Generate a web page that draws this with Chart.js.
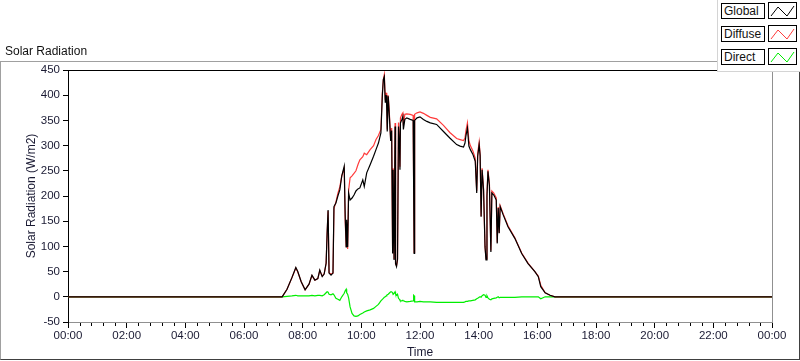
<!DOCTYPE html>
<html>
<head>
<meta charset="utf-8">
<script src="https://cdn.jsdelivr.net/npm/chart.js@4"></script>
<style>
  html, body { margin: 0; padding: 0; background: #fff; }
  #wrap { position: relative; width: 800px; height: 361px; overflow: hidden; font-family: "Liberation Sans", Arial, sans-serif; }
  canvas { position: absolute; left: 0; top: 0; }
  #frame { position: absolute; left: 0; top: 61px; width: 798px; height: 297px;
    border-left: 1px solid #a0a0a0; border-top: 1px solid #a0a0a0;
    border-right: 1px solid #404040; border-bottom: 1px solid #404040; pointer-events: none; }
  #title { position: absolute; left: 5px; top: 44px; font-size: 12px; line-height: 14px; color: #111; }
  #legend { position: absolute; left: 717px; top: 0; width: 83px; height: 71px; background: #fff;
    border-left: 1px solid #d4d4d4; border-bottom: 1px solid #d4d4d4; }
  .lab { position: absolute; left: 3px; width: 40px; height: 14px; border: 1px solid #000;
    font-size: 12px; line-height: 14px; padding-left: 2px; color: #111; }
  .ico { position: absolute; left: 50px; width: 27px; height: 15px; border: 1px solid #000; background: #fff; }
  .ico svg { position: absolute; left: 0; top: 0; }
</style>
</head>
<body>
<div id="wrap">
  <canvas id="grafico" width="800" height="361"></canvas>
  <div id="frame"></div>
  <div id="title">Solar Radiation</div>
  <div id="legend"></div>
</div>
<script>
// minutes after midnight
const minutes = [0, 438, 448, 458, 466, 470, 477, 485, 493, 499, 505, 511, 515, 520, 524, 528, 530, 532, 534, 538,
  542, 544, 548, 552, 556, 560, 565, 567, 569, 570, 572, 574, 577, 581, 585, 589, 593, 597, 603, 606,
  611, 618, 625, 630, 635, 640, 643, 645, 647, 649, 651, 652, 653, 655, 657, 660, 662, 664, 665, 667,
  669, 670, 672, 674, 676, 678, 679, 680, 683, 685, 686, 689, 693, 700, 706, 707, 708, 709, 714, 720,
  727, 734, 741, 754, 768, 781, 795, 802, 809, 812, 814, 817, 820, 823, 828, 833, 836, 838, 841, 843,
  845, 847, 850, 853, 855, 857, 859, 862, 865, 867, 871, 876, 878, 880, 882, 884, 890, 900, 914, 928,
  941, 955, 962, 967, 976, 986, 996, 1440]

const globalRad = [0, 0, 15, 38, 58, 50, 30, 14, 25, 43, 33, 36, 53, 40, 45, 67, 126, 172, 47, 43,
  47, 179, 186, 200, 212, 240, 259, 160, 99, 153, 99, 206, 192, 196, 202, 210, 214, 216, 232, 219,
  246, 262, 279, 292, 305, 325, 400, 431, 437, 385, 400, 372, 328, 398, 365, 309, 330, 86, 252, 73,
  338, 66, 60, 75, 338, 300, 252, 345, 352, 358, 332, 352, 355, 352, 350, 216, 86, 350, 355, 357,
  352, 348, 345, 342, 328, 315, 302, 299, 297, 305, 320, 335, 299, 292, 283, 269, 206, 279, 302, 280,
  159, 252, 212, 99, 73, 200, 249, 220, 89, 206, 202, 192, 106, 176, 126, 179, 163, 139, 116, 86,
  66, 50, 40, 20, 8, 3, 0, 0]

const diffuseRad = [0, 0, 15, 38, 57, 49, 30, 14, 25, 42, 33, 36, 52, 41, 46, 66, 125, 170, 48, 45,
  47, 175, 188, 205, 218, 240, 255, 150, 100, 148, 95, 212, 236, 240, 245, 250, 262, 272, 278, 285,
  282, 292, 300, 312, 320, 332, 405, 431, 441, 390, 405, 376, 332, 400, 370, 312, 335, 90, 255, 75,
  345, 65, 62, 72, 346, 305, 258, 355, 362, 365, 340, 362, 363, 362, 360, 218, 88, 362, 365, 367,
  364, 360, 356, 353, 340, 326, 314, 312, 310, 315, 330, 345, 310, 300, 290, 275, 210, 284, 307, 283,
  160, 255, 214, 100, 75, 205, 252, 224, 92, 210, 206, 196, 108, 178, 127, 181, 165, 141, 117, 87,
  67, 50, 41, 23, 8, 3, 0, 0]

const directRad = [0, 0, 1, 2, 3, 2, 2, 2, 2, 3, 2, 3, 3, 2, 4, 8, 10, 9, 5, 4,
  6, 4, -3, -5, -7, 0, 7, 12, 15, 8, 5, -2, -20, -33, -38, -39, -38, -35, -32, -30,
  -28, -26, -23, -19, -15, -8, -5, -3, -1, 0, 2, 3, 4, 5, 7, 10, 10, 8, 5, 7,
  10, 6, 3, 5, -3, -5, -7, -8, -8, -7, -8, -9, -10, -9, -8, 3, 2, -10, -10, -9,
  -10, -10, -10, -11, -11, -11, -11, -11, -11, -10, -9, -9, -8, -8, -7, -6, -4, -3, -1, 0,
  -1, 2, 4, 3, -1, 2, -2, -5, -6, -4, -3, -2, -1, 0, -2, -1, -1, -1, -1, 0,
  0, 0, 0, -4, 0, 0, 0, 0]

const seriesNames = ['Global', 'Diffuse', 'Direct']
const seriesColors = ['#000000', '#ff3c3c', '#00ee00']
const yTicks = [-50, 0, 50, 100, 150, 200, 250, 300, 350, 400, 450]
const xTickLabels = ['00:00', '02:00', '04:00', '06:00', '08:00', '10:00', '12:00',
  '14:00', '16:00', '18:00', '20:00', '22:00', '00:00']

const tickFont = { family: 'Liberation Sans', size: 11.5 }
const titleFont = { family: 'Liberation Sans', size: 12 }
const textColor = '#1a1a33'

function pts(values) {
  return minutes.map((m, i) => ({ x: m, y: values[i] }))
}

// top + right border of the plot, minor ticks on the time axis
const extras = {
  id: 'extras',
  afterDraw(chart) {
    const { ctx, chartArea } = chart
    const xs = chart.scales.x
    ctx.save()
    ctx.lineWidth = 1
    ctx.strokeStyle = '#000'
    ctx.beginPath()
    ctx.moveTo(chartArea.left, Math.round(chartArea.top) + 0.5)
    ctx.lineTo(chartArea.right, Math.round(chartArea.top) + 0.5)
    ctx.stroke()
    ctx.strokeStyle = '#909090'
    ctx.beginPath()
    ctx.moveTo(Math.round(chartArea.right) + 0.5, chartArea.top)
    ctx.lineTo(Math.round(chartArea.right) + 0.5, chartArea.bottom)
    ctx.stroke()
    ctx.strokeStyle = '#000'
    ctx.beginPath()
    for (let m = 24; m < 1440; m += 24) {
      if (m % 120 === 0) continue
      const px = Math.round(xs.getPixelForValue(m)) + 0.5
      ctx.moveTo(px, Math.round(chartArea.bottom) + 1)
      ctx.lineTo(px, Math.round(chartArea.bottom) + 4)
    }
    ctx.stroke()
    ctx.restore()
  }
}

new Chart(document.getElementById('grafico'), {
  type: 'line',
  data: {
    datasets: [
      { label: seriesNames[0], data: pts(globalRad), borderColor: seriesColors[0], order: 0 },
      { label: seriesNames[1], data: pts(diffuseRad), borderColor: seriesColors[1], order: 1 },
      { label: seriesNames[2], data: pts(directRad), borderColor: seriesColors[2], order: 2 }
    ].map(d => Object.assign(d, { borderWidth: 1.2, pointRadius: 0, tension: 0, fill: false }))
  },
  options: {
    responsive: false,
    animation: false,
    events: [],
    layout: { padding: { top: 70, right: 28, left: 0, bottom: 0 } },
    plugins: { legend: { display: false }, tooltip: { enabled: false } },
    scales: {
      x: {
        type: 'linear',
        min: 0,
        max: 1440,
        afterFit: s => { s.height = 39 },
        afterBuildTicks: s => { s.ticks = xTickLabels.map((l, i) => ({ value: i * 120 })) },
        ticks: {
          autoSkip: false, maxRotation: 0, padding: 1,
          font: tickFont, color: textColor,
          callback: (v, i) => xTickLabels[i]
        },
        grid: { drawOnChartArea: false, tickLength: 6, color: '#000' },
        border: { color: '#909090' },
        title: { display: true, text: 'Time', font: titleFont, color: textColor, padding: { top: 0, bottom: 1 } }
      },
      y: {
        min: -50,
        max: 450,
        afterFit: s => { s.width = 68 },
        afterBuildTicks: s => { s.ticks = yTicks.map(v => ({ value: v })) },
        ticks: { font: tickFont, color: textColor, padding: 3 },
        grid: { drawOnChartArea: false, tickLength: 5, color: '#000' },
        border: { color: '#000' },
        title: { display: true, text: 'Solar Radiation (W/m2)', font: titleFont, color: textColor, padding: { top: 24, bottom: 0 } }
      }
    }
  },
  plugins: [extras]
})

// legend boxes, top right
const legend = document.getElementById('legend')
seriesNames.forEach((name, i) => {
  const top = 2 + i * 23
  const lab = document.createElement('div')
  lab.className = 'lab'
  lab.style.top = (top + 1) + 'px'
  lab.textContent = name
  legend.appendChild(lab)
  const ico = document.createElement('div')
  ico.className = 'ico'
  ico.style.top = top + 'px'
  ico.innerHTML = '<svg width="27" height="15"><polyline points="2,13 9,4 18,13 25,3" fill="none" stroke="' +
    seriesColors[i] + '" stroke-width="1"/></svg>'
  legend.appendChild(ico)
})
</script>
</body>
</html>
